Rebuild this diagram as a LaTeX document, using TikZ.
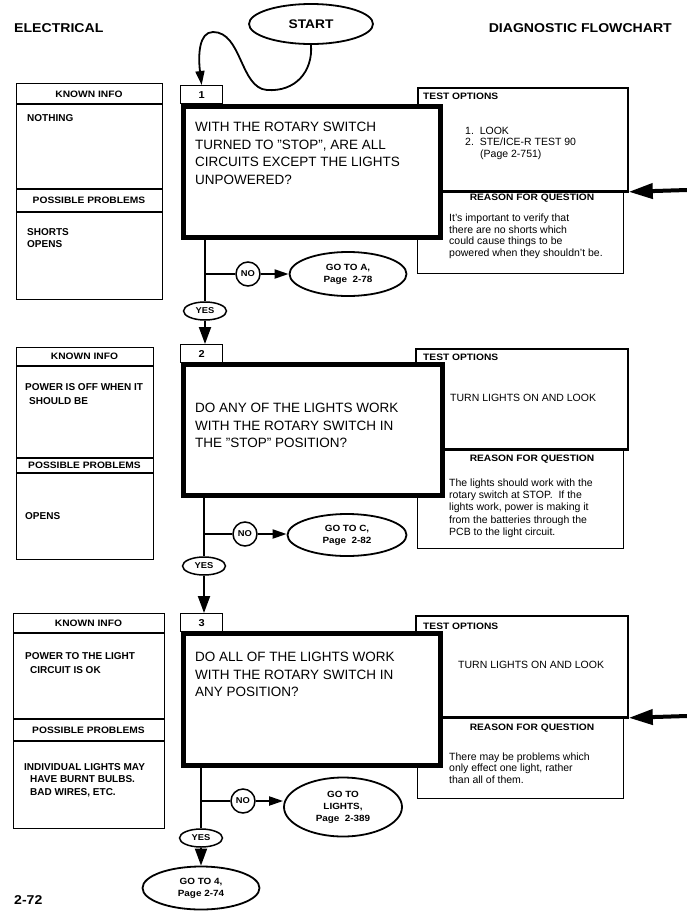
\documentclass[tikz,border=0pt]{standalone}
\usepackage{fontspec}
\setmainfont{Liberation Sans}
\newfontfamily\heavyfont{Liberation Sans}[FakeStretch=1.1]
\usetikzlibrary{shapes.geometric,arrows.meta}

\tikzset{
  hdr/.style={font=\heavyfont\bfseries\fontsize{9.3}{11}\selectfont, inner sep=0},
  qtext/.style={anchor=north west, inner sep=0, align=left, font=\fontsize{13.5}{17.5}\selectfont},
  ktext/.style={anchor=north west, inner sep=0, align=left, font=\bfseries\fontsize{10}{12.5}\selectfont},
  otext/.style={anchor=north west, inner sep=0, align=left, font=\fontsize{10.5}{11.7}\selectfont},
  infoframe/.style={draw, line width=1.3pt, anchor=north west, inner sep=0},
  testframe/.style={draw, line width=1.8pt, anchor=north west, inner sep=0},
  qbox/.style={draw, line width=4.5pt, fill=white, anchor=north west, inner sep=0},
  numbox/.style={draw, line width=1.3pt, anchor=north west, minimum width=42, minimum height=18, inner sep=0, font=\heavyfont\bfseries\fontsize{10}{12}\selectfont},
  goto/.style={ellipse, draw, line width=1.8pt, inner sep=0, align=center, font=\heavyfont\bfseries\fontsize{9}{12}\selectfont},
  answer/.style={ellipse, draw, line width=1.5pt, minimum width=43, minimum height=18, inner sep=0, font=\heavyfont\bfseries\fontsize{8.5}{10}\selectfont},
  nocirc/.style={circle, draw, line width=1.5pt, minimum size=24, inner sep=0, font=\heavyfont\bfseries\fontsize{8.5}{10}\selectfont},
  flow/.style={line width=2pt},
  flowarr/.style={line width=2pt, -{Triangle[length=17pt, width=12pt]}},
  noarr/.style={line width=2pt, -{Triangle[length=14pt, width=9pt]}},
  bigarr/.style={line width=4pt, -{Triangle[length=24pt, width=15pt]}},
  sep/.style={line width=1.3pt},
}

\begin{document}
\begin{tikzpicture}[x=1pt, y=-1pt]
  \fill[white] (0,0) rectangle (687,921);
  \useasboundingbox (0,0) rectangle (687,921);
  % Page headings
  \node[font=\heavyfont\bfseries\fontsize{12.8}{14}\selectfont, anchor=west, inner sep=0] (elec) at (14,28) {ELECTRICAL};
  \node[font=\heavyfont\bfseries\fontsize{12.8}{14}\selectfont, anchor=east, inner sep=0] (diag) at (672,28) {DIAGNOSTIC FLOWCHART};
  \node[font=\heavyfont\bfseries\fontsize{12.8}{14}\selectfont, anchor=west, inner sep=0] (pagenum) at (14,900) {2-72};
  \node[goto, minimum width=124, minimum height=40, font=\heavyfont\bfseries\fontsize{12.5}{14}\selectfont] (start) at (311,24) {START};

  % ---- Step 1 ----
  \node[infoframe, minimum width=146, minimum height=216] (known1) at (16,83) {};
  \draw[sep] (16,104) -- (162,104);
  \draw[sep] (16,189) -- (162,189);
  \draw[sep] (16,212) -- (162,212);
  \node[hdr] (kh1) at (89,94) {KNOWN INFO};
  \node[hdr] (ph1) at (89,200.5) {POSSIBLE PROBLEMS};
  \node[ktext] (kt1) at (27,114.5) {NOTHING};
  \node[ktext] (pt1) at (27,228) {SHORTS\\OPENS};
  % test options / reason, behind the question
  \node[testframe, minimum width=210, minimum height=103] (test1) at (417,87) {};
  \node[infoframe, minimum width=206, minimum height=83] (reason1) at (417,190) {};
  \draw[line width=2.4pt] (test1.south west) -- (test1.south east);
  \node[hdr, anchor=west] (th1) at (423,96) {TEST OPTIONS};
  \node[otext] (to1) at (465,126.5) {1.\ \ LOOK\\2.\ \ STE/ICE-R TEST 90\\\hspace*{15pt}(Page 2-751)};
  \node[hdr] (rh1) at (532,198) {REASON FOR QUESTION};
  \node[otext] (rt1) at (449,213.5) {It's important to verify that\\there are no shorts which\\could cause things to be\\powered when they shouldn't be.};
  \coordinate (feed1) at (687,190);
  \draw[bigarr] (feed1) -- (test1.south east);
  % question
  \node[numbox] (num1) at (180,85) {1};
  \node[qbox, minimum width=257, minimum height=131] (q1) at (181,104) {};
  \node[qtext] (qt1) at (195,122) {WITH THE ROTARY SWITCH\\TURNED TO "STOP", ARE ALL\\CIRCUITS EXCEPT THE LIGHTS\\UNPOWERED?};
  % answers
  \node[answer] (yes1) at (205,311) {YES};
  \node[nocirc] (no1) at (248,274) {NO};
  \node[goto, minimum width=117, minimum height=44] (gotoA) at (348,274) {GO TO A,\\Page\ \ 2-78};
  \draw[flow] (q1.south -| yes1) -- (yes1.north);
  \draw[flow] (no1 -| yes1) -- (no1.west);
  \draw[noarr] (no1.east) -- (gotoA.west);
  \draw[line width=1.8pt, -{Triangle[length=14pt, width=9pt]}] (start.south)
    .. controls (313,72) and (295,92) .. (267,90)
    .. controls (240,88) and (242,32) .. (213,32)
    .. controls (199,32) and (198,55) .. (num1.north);

  % ---- Step 2 ----
  \node[infoframe, minimum width=137, minimum height=212] (known2) at (16,347) {};
  \draw[sep] (16,366) -- (153,366);
  \draw[sep] (16,458) -- (153,458);
  \draw[sep] (16,473) -- (153,473);
  \node[hdr] (kh2) at (84.5,356.5) {KNOWN INFO};
  \node[hdr] (ph2) at (84.5,465.5) {POSSIBLE PROBLEMS};
  \node[ktext] (kt2) at (25,383.5) {POWER IS OFF WHEN IT\\[1.5pt]\hspace*{4pt}SHOULD BE};
  \node[ktext] (pt2) at (25,512.5) {OPENS};
  \node[testframe, minimum width=212, minimum height=100] (test2) at (415,348) {};
  \node[infoframe, minimum width=206, minimum height=100] (reason2) at (417,448) {};
  \draw[line width=2.4pt] (test2.south west) -- (test2.south east);
  \node[hdr, anchor=west] (th2) at (423,357) {TEST OPTIONS};
  \node[otext, anchor=west] (to2) at (450,398) {TURN LIGHTS ON AND LOOK};
  \node[hdr] (rh2) at (532,459) {REASON FOR QUESTION};
  \node[otext, font=\fontsize{10.5}{12.25}\selectfont] (rt2) at (449,478.5) {The lights should work with the\\rotary switch at STOP.\ \ If the\\lights work, power is making it\\from the batteries through the\\PCB to the light circuit.};
  \node[numbox] (num2) at (180,344) {2};
  \node[qbox, minimum width=259, minimum height=131] (q2) at (181,362) {};
  \node[qtext] (qt2) at (195,403) {DO ANY OF THE LIGHTS WORK\\WITH THE ROTARY SWITCH IN\\THE "STOP" POSITION?};
  \node[answer] (yes2) at (204,566) {YES};
  \node[nocirc] (no2) at (245,534) {NO};
  \node[goto, minimum width=119, minimum height=42] (gotoC) at (347,535) {GO TO C,\\Page\ \ 2-82};
  \draw[flowarr] (yes1.south) -- (yes1.south |- num2.north);
  \draw[flow] (q2.south -| yes2) -- (yes2.north);
  \draw[flow] (no2 -| yes2) -- (no2.west);
  \draw[noarr] (no2.east) -- (no2.east -| gotoC.west);

  % ---- Step 3 ----
  \node[infoframe, minimum width=151, minimum height=215] (known3) at (13,613) {};
  \draw[sep] (13,633) -- (164,633);
  \draw[sep] (13,719) -- (164,719);
  \draw[sep] (13,741) -- (164,741);
  \node[hdr] (kh3) at (88.5,623) {KNOWN INFO};
  \node[hdr] (ph3) at (88.5,730) {POSSIBLE PROBLEMS};
  \node[ktext] (kt3) at (25,652) {POWER TO THE LIGHT\\[1.5pt]\hspace*{5pt}CIRCUIT IS OK};
  \node[ktext] (pt3) at (24,763) {INDIVIDUAL LIGHTS MAY\\\hspace*{6pt}HAVE BURNT BULBS.\\\hspace*{6pt}BAD WIRES, ETC.};
  \node[testframe, minimum width=212, minimum height=101] (test3) at (415,615) {};
  \node[infoframe, minimum width=206, minimum height=82] (reason3) at (417,716) {};
  \draw[line width=2.4pt] (test3.south west) -- (test3.south east);
  \node[hdr, anchor=west] (th3) at (423,626) {TEST OPTIONS};
  \node[otext, anchor=west] (to3) at (458,665) {TURN LIGHTS ON AND LOOK};
  \node[hdr] (rh3) at (532,728) {REASON FOR QUESTION};
  \node[otext, font=\fontsize{10.5}{11.5}\selectfont] (rt3) at (449,752.5) {There may be problems which\\only effect one light, rather\\than all of them.};
  \coordinate (feed3) at (687,716);
  \draw[bigarr] (feed3) -- (test3.south east);
  \node[numbox] (num3) at (180,613) {3};
  \node[qbox, minimum width=257, minimum height=132] (q3) at (181,631) {};
  \node[qtext] (qt3) at (195,652) {DO ALL OF THE LIGHTS WORK\\WITH THE ROTARY SWITCH IN\\ANY POSITION?};
  \node[answer] (yes3) at (201,838) {YES};
  \node[nocirc] (no3) at (243,801) {NO};
  \node[goto, minimum width=118, minimum height=59] (gotoL) at (343,807) {GO TO\\LIGHTS,\\Page\ \ 2-389};
  \node[goto, minimum width=117, minimum height=43] (gotoFour) at (201,888) {GO TO 4,\\Page 2-74};
  \draw[flowarr] (yes2.south) -- (yes2.south |- num3.north);
  \draw[flow] (q3.south -| yes3) -- (yes3.north);
  \draw[flow] (no3 -| yes3) -- (no3.west);
  \draw[noarr] (no3.east) -- (no3.east -| gotoL.west);
  \draw[flowarr] (yes3.south) -- (gotoFour.north);
\end{tikzpicture}
\end{document}
